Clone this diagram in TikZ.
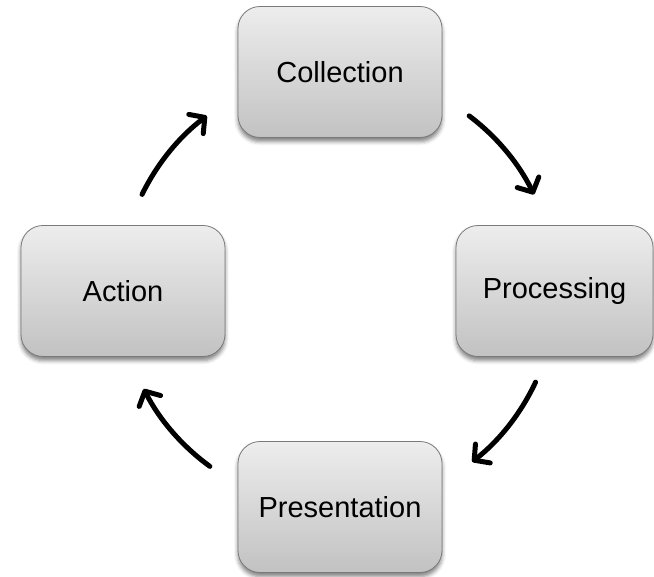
\documentclass[tikz,border=0pt]{standalone}
\usepackage{fontspec}
\setmainfont{Liberation Sans}
\usetikzlibrary{arrows.meta,shadows.blur,calc}
\definecolor{boxtop}{HTML}{EDEDED}
\definecolor{boxbot}{HTML}{C2C2C2}
\definecolor{boxline}{HTML}{7A7A7A}
\tikzset{
  stage/.style={
    draw=boxline, line width=0.8pt, rounded corners=22pt,
    top color=boxtop, bottom color=boxbot,
    minimum width=204pt, minimum height=131pt,
    inner sep=0pt, font=\fontsize{29}{35}\selectfont,
    blur shadow={shadow xshift=0pt, shadow yshift=-4pt,
      shadow blur radius=4pt, shadow opacity=50}
  },
  cycle arrow/.style={
    line width=5pt, line cap=round,
    -{Straight Barb[length=11pt,width=24pt,line width=5pt,round]}
  }
}
\begin{document}
\begin{tikzpicture}[x=1pt,y=1pt]
  \useasboundingbox (0,0) rectangle (654,577);
  % stages of the cycle
  \node[stage] (collection)   at (340,505) {Collection};
  \node[stage, minimum width=197pt] (processing) at (554.5,286) {Processing};
  \node[stage] (presentation) at (340,70)  {Presentation};
  \node[stage] (action)       at (123,286) {Action};
  % circular arrows around the centre
  \coordinate (c) at (338,287);
  \draw[cycle arrow] ($(c)+(53:218)$) arc[start angle=53, end angle=26, radius=218];
  \draw[cycle arrow] ($(c)+(-25:218)$) arc[start angle=-25, end angle=-52, radius=218];
  \draw[cycle arrow] ($(c)+(-126:218)$) arc[start angle=-126, end angle=-153, radius=218];
  \draw[cycle arrow] ($(c)+(154:218)$) arc[start angle=154, end angle=127, radius=218];
\end{tikzpicture}
\end{document}
